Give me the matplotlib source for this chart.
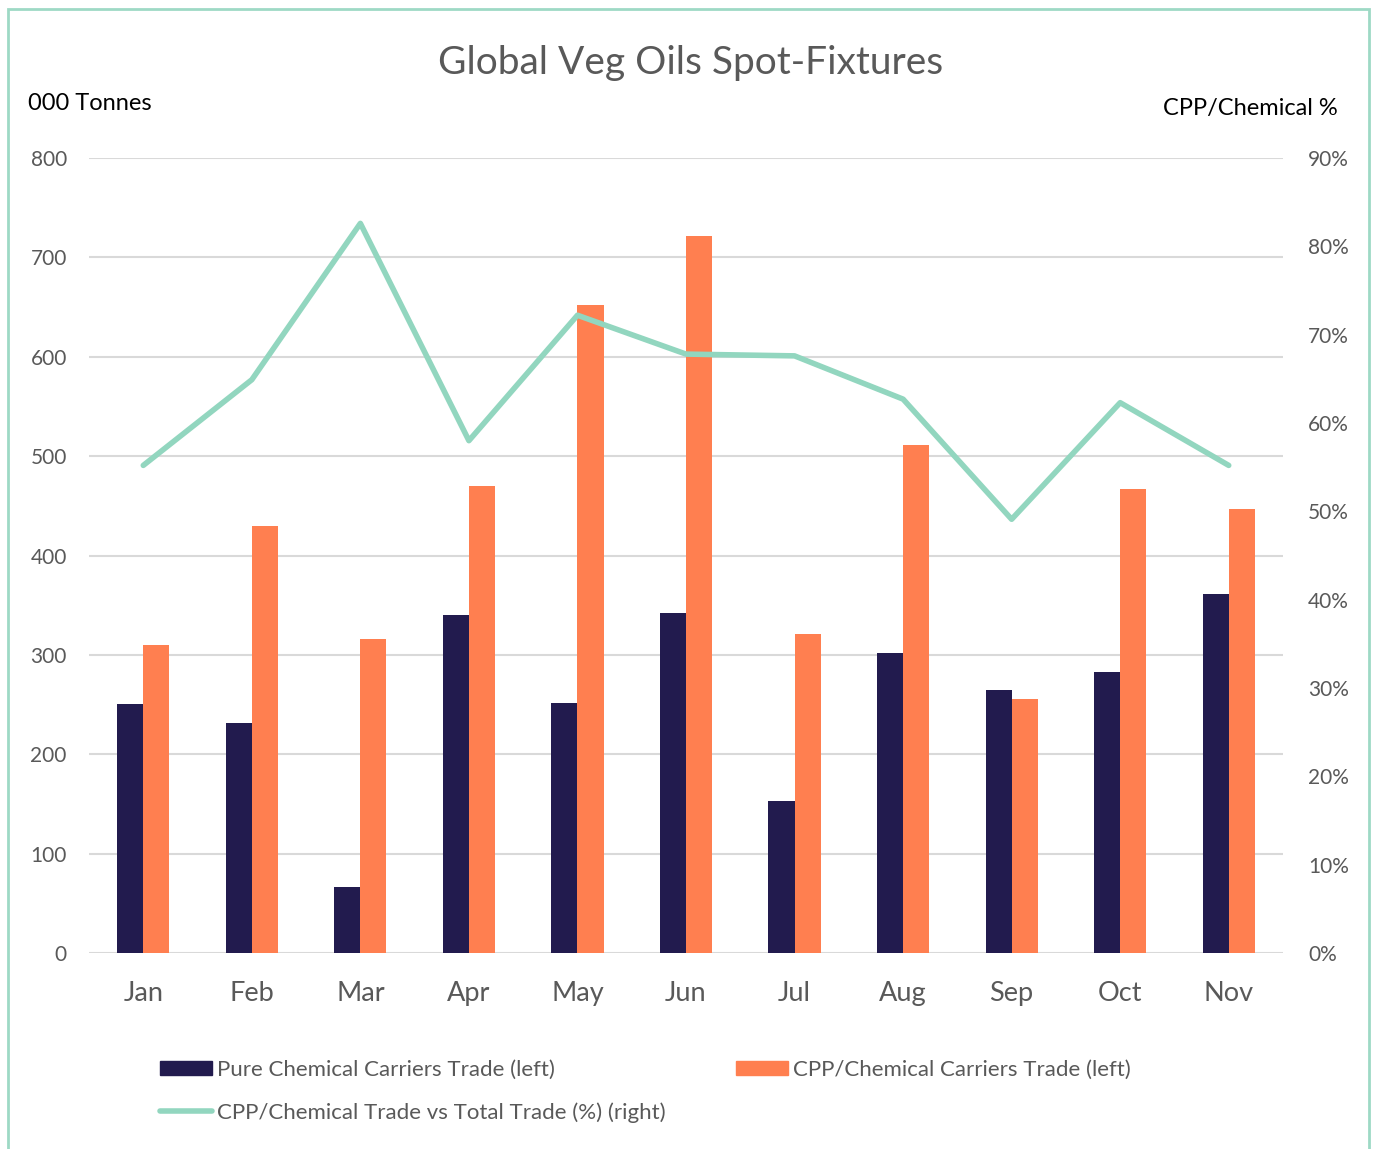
import matplotlib
matplotlib.use("Agg")
import matplotlib.pyplot as plt
from matplotlib.patches import Rectangle
from matplotlib.lines import Line2D
import numpy as np

months = ["Jan", "Feb", "Mar", "Apr", "May", "Jun", "Jul", "Aug", "Sep", "Oct", "Nov"]
pure_chem = [251, 231, 66, 340, 252, 342, 153, 302, 265, 283, 361]
cpp_chem = [310, 430, 316, 470, 652, 722, 321, 511, 256, 467, 447]
cpp_share = [55.2, 64.9, 82.6, 58.0, 72.2, 67.8, 67.6, 62.7, 49.1, 62.3, 55.2]
left_ticks = [0, 100, 200, 300, 400, 500, 600, 700, 800]
right_ticks = [0, 10, 20, 30, 40, 50, 60, 70, 80, 90]

NAVY = "#221B4E"
ORANGE = "#FF7F50"
TEAL = "#92D6BF"
GREY = "#595959"

plt.rcParams['font.family'] = ['Lato', 'DejaVu Sans']

fig = plt.figure(figsize=(13.75, 11.49), dpi=100)
ax = fig.add_axes([89/1375, 1-953/1149, (1283-89)/1375, (953-158)/1149])
ax2 = ax.twinx()

x = np.arange(len(months))
w = 0.24
ax.bar(x - w/2, pure_chem, width=w, color=NAVY, zorder=3)
ax.bar(x + w/2, cpp_chem, width=w, color=ORANGE, zorder=3)
ax.set_xlim(-0.5, len(months) - 0.5)
ax.set_ylim(0, 800)
ax.set_yticks(left_ticks)
ax.set_xticks(x)
ax.set_xticklabels(months)
ax.yaxis.grid(True, color="#D9D9D9", linewidth=1.5, zorder=0)
ax.set_axisbelow(True)
for s in ax.spines.values():
    s.set_visible(False)
for s in ax2.spines.values():
    s.set_visible(False)
ax.tick_params(axis='y', length=0, labelsize=15, labelcolor=GREY, pad=16)
ax.tick_params(axis='x', length=0, labelsize=19.5, labelcolor=GREY, pad=20)

ax2.plot(x, cpp_share, color=TEAL, linewidth=4, solid_capstyle='round', zorder=4)
ax2.set_ylim(0, 90)
ax2.set_yticks(right_ticks)
ax2.set_yticklabels([f"{t}%" for t in right_ticks])
ax2.tick_params(axis='y', length=0, labelsize=15, labelcolor=GREY, pad=18)

fig.text(691/1375, 1-63/1149, "Global Veg Oils Spot-Fixtures", ha='center', va='center',
         fontsize=28, color=GREY)
fig.text(28/1375, 1-103/1149, "000 Tonnes", ha='left', va='center', fontsize=17, color='black')
fig.text(1338/1375, 1-108/1149, "CPP/Chemical %", ha='right', va='center', fontsize=17, color='black')

handles = [Rectangle((0, 0), 1, 1, color=NAVY),
           Line2D([0], [0], color=TEAL, linewidth=4, solid_capstyle='round'),
           Rectangle((0, 0), 1, 1, color=ORANGE)]
labels = ["Pure Chemical Carriers Trade (left)",
          "CPP/Chemical Trade vs Total Trade (%) (right)",
          "CPP/Chemical Carriers Trade (left)"]
leg = fig.legend(handles, labels, ncol=2, loc='upper left',
                 bbox_to_anchor=(160/1375, 1-1060/1149), frameon=False, borderpad=0,
                 borderaxespad=0,
                 fontsize=16, labelcolor=GREY, handlelength=2.35, handleheight=0.6,
                 handletextpad=0.22, columnspacing=3.15, labelspacing=1.0)

border = Rectangle((8/1375, -0.05), (1369-8)/1375, 1-9/1149+0.05, transform=fig.transFigure,
                   fill=False, edgecolor="#9ED9C5", linewidth=2)
fig.patches.append(border)

fig.savefig("out.png", dpi=100)
